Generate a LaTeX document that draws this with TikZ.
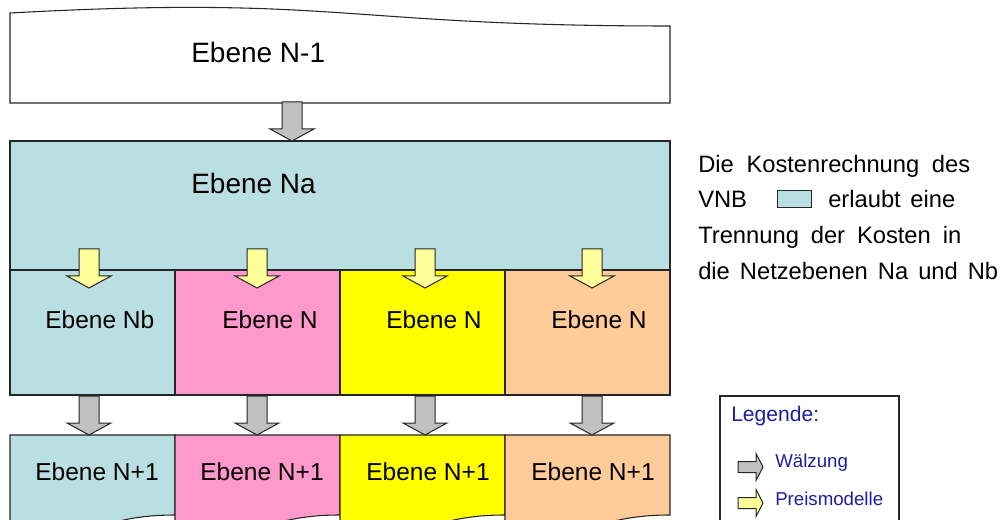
\documentclass[tikz,border=0pt]{standalone}
\usepackage{fontspec}
\setmainfont{Liberation Sans}
\definecolor{nblue}{RGB}{186,223,226}
\definecolor{npink}{RGB}{255,153,204}
\definecolor{nyellow}{RGB}{255,255,0}
\definecolor{npeach}{RGB}{255,204,153}
\definecolor{agray}{RGB}{192,192,192}
\definecolor{ayellow}{RGB}{255,255,153}
\definecolor{legblue}{RGB}{30,30,160}
\tikzset{
  box/.style={draw=black!85, line width=0.8pt},
  arrowline/.style={draw=black!85, line width=0.75pt},
  biglbl/.style={font=\fontsize{21}{24}\selectfont, anchor=west, inner sep=0pt},
  rowlbl/.style={font=\fontsize{18.4}{22}\selectfont, anchor=west, inner sep=0pt},
  sidetxt/.style={font=\fontsize{17.8}{21}\selectfont, anchor=base west, inner sep=0pt},
  legtxt/.style={font=\fontsize{14}{16}\selectfont, text=legblue, anchor=base west, inner sep=0pt},
  pics/blockdown/.style={code={
    \draw[arrowline, fill=#1] (-10,0) -- (10,0) -- (10,27) -- (22,27) -- (0,39)
      -- (-22,27) -- (-10,27) -- cycle;}},
  pics/blockright/.style={code={
    \draw[arrowline, fill=#1] (0,-5.5) -- (18,-5.5) -- (18,-13.5) -- (25,0)
      -- (18,13.5) -- (18,5.5) -- (0,5.5) -- cycle;}},
}
\begin{document}
\begin{tikzpicture}[x=0.75pt, y=-0.75pt]
\clip (0,0) rectangle (1003,520);
\fill[white] (0,0) rectangle (1003,520);

% top box N-1 (wavy top)
\path[box, fill=white] (10,103) -- (670,103) -- (670,26)
  .. controls (340,26) and (340,-5) .. (10,13) -- cycle;
\node[biglbl] (nm1) at (191,52) {Ebene N-1};

% Na box
\path[box, fill=nblue] (10,141) rectangle (670,270);
\node[biglbl] (na) at (191,183) {Ebene Na};

% middle row
\path[box, fill=nblue]   (10,270)  rectangle (175,395);
\path[box, fill=npink]   (175,270) rectangle (340,395);
\path[box, fill=nyellow] (340,270) rectangle (505,395);
\path[box, fill=npeach]  (505,270) rectangle (670,395);
\node[rowlbl] (nb) at (45,320) {Ebene Nb};
\node[rowlbl] (n2) at (222,320) {Ebene N};
\node[rowlbl] (n3) at (386,320) {Ebene N};
\node[rowlbl] (n4) at (551,320) {Ebene N};

% bottom row (document shapes)
\foreach \xl/\col in {10/nblue,175/npink,340/nyellow,505/npeach}{
  \path[box, fill=\col] (\xl,435) -- ({\xl+165},435) -- ({\xl+165},515)
    .. controls ({\xl+82.5},515) and ({\xl+82.5},546) .. (\xl,528) -- cycle;
}
\node[rowlbl] (b1) at (35,472) {Ebene N+1};
\node[rowlbl] (b2) at (200,472) {Ebene N+1};
\node[rowlbl] (b3) at (366,472) {Ebene N+1};
\node[rowlbl] (b4) at (531,472) {Ebene N+1};

% arrows
\pic at (292,102) {blockdown=agray};
\foreach \x in {89,257,425,592}{
  \pic at (\x,249) {blockdown=ayellow};
  \pic at (\x,396) {blockdown=agray};
}

% side text
\node[sidetxt] (t1) at (698,173) {\makebox[204pt][s]{Die Kostenrechnung des}};
\node[sidetxt] (t2a) at (698,208) {VNB};
\path[box, line width=0.75pt, fill=nblue] (777,191) rectangle (811,208);
\node[sidetxt] (t2b) at (828,208) {\makebox[95.25pt][s]{erlaubt eine}};
\node[sidetxt] (t3) at (698,244) {\makebox[197.25pt][s]{Trennung der Kosten in}};
\node[sidetxt] (t4) at (698,280) {\makebox[225pt][s]{die Netzebenen Na und Nb}};

% legend
\path[box, fill=white] (720,396) rectangle (899,540);
\node[legtxt, font=\fontsize{15.8}{18}\selectfont] (lg) at (731,421) {Legende:};
\pic at (738,467) {blockright=agray};
\pic at (738,503) {blockright=ayellow};
\node[legtxt] (lw) at (775,467) {Wälzung};
\node[legtxt] (lp) at (775,505) {Preismodelle};
\end{tikzpicture}
\end{document}
